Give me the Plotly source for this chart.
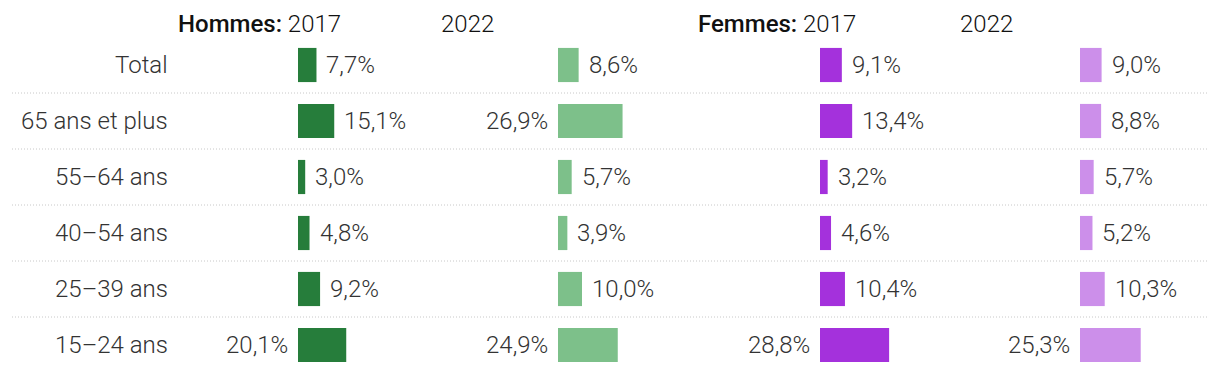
import plotly.graph_objects as go

categories = ["Total", "65 ans et plus", "55–64 ans", "40–54 ans", "25–39 ans", "15–24 ans"]
hommes_2017 = [7.7, 15.1, 3.0, 4.8, 9.2, 20.1]
hommes_2022 = [8.6, 26.9, 5.7, 3.9, 10.0, 24.9]
femmes_2017 = [9.1, 13.4, 3.2, 4.6, 10.4, 28.8]
femmes_2022 = [9.0, 8.8, 5.7, 5.2, 10.3, 25.3]

series = [
    ("Hommes 2017", hommes_2017, "#267d3b"),
    ("Hommes 2022", hommes_2022, "#7dc08a"),
    ("Femmes 2017", femmes_2017, "#a431dc"),
    ("Femmes 2022", femmes_2022, "#cc8fea"),
]

# page body has an 8px margin: figure is sized to fit the window exactly
W, H = 1204, 356
TOP = 29
ROW = 56
col_starts = [290, 550, 812, 1072]
col_w = 132
px_per_pct = 2.4
FONT = "Roboto Light, Roboto"
FS = 24
TXT = "#333333"

fig = go.Figure()
annotations = []
for i, (name, vals, color) in enumerate(series):
    ax = "x" if i == 0 else f"x{i+1}"
    fig.add_trace(go.Bar(
        x=vals, y=categories, orientation="h", name=name,
        marker=dict(color=color, line=dict(width=0)),
        width=0.61, xaxis=ax, yaxis="y", hoverinfo="x+y",
        showlegend=False,
    ))
    for c, v in zip(categories, vals):
        label = f"{v:.1f}%".replace(".", ",")
        if v >= 20:
            annotations.append(dict(x=0, y=c, xref=ax, yref="y", text=label,
                                    showarrow=False, xanchor="right", xshift=-8,
                                    font=dict(family=FONT, size=FS, color=TXT, weight=300)))
        else:
            annotations.append(dict(x=v, y=c, xref=ax, yref="y", text=label,
                                    showarrow=False, xanchor="left", xshift=8,
                                    font=dict(family=FONT, size=FS, color=TXT, weight=300)))

for c in categories:
    annotations.append(dict(x=162 / W, y=c, xref="paper", yref="y", text=c,
                            showarrow=False, xanchor="right",
                            font=dict(family=FONT, size=FS, color=TXT, weight=300)))

plot_h = H - TOP
hy = 1 + (TOP - 16) / plot_h
headers = [
    (168, "<span style='font-family:Roboto;font-weight:500'>Hommes:</span> 2017"),
    (431, "2022"),
    (688, "<span style='font-family:Roboto;font-weight:500'>Femmes:</span> 2017"),
    (950, "2022"),
]
for x, t in headers:
    annotations.append(dict(x=x / W, y=hy, xref="paper", yref="paper", text=t,
                            showarrow=False, xanchor="left", yanchor="middle",
                            font=dict(family=FONT, size=FS, color="#111111", weight=300)))

shapes = []
for k in range(len(categories) - 1):
    shapes.append(dict(type="line", xref="paper", yref="y", x0=4 / W, x1=1199 / W,
                       y0=k + 0.5, y1=k + 0.5,
                       line=dict(color="#c8c8c8", width=1, dash="1px,2px")))

span = plot_h / ROW
layout = dict(
    width=W, height=H,
    margin=dict(l=0, r=0, t=TOP, b=0),
    paper_bgcolor="white", plot_bgcolor="white",
    font=dict(family=FONT, size=FS, color=TXT),
    barmode="overlay",
    yaxis=dict(categoryorder="array", categoryarray=categories,
               range=[-0.5 + span, -0.5],
               showticklabels=False, showgrid=False, zeroline=False, fixedrange=True),
    annotations=annotations,
    shapes=shapes,
)
for i, s in enumerate(col_starts):
    key = "xaxis" if i == 0 else f"xaxis{i+1}"
    layout[key] = dict(domain=[s / W, (s + col_w) / W], range=[0, col_w / px_per_pct],
                       anchor="y", showticklabels=False, showgrid=False,
                       zeroline=False, showline=False, fixedrange=True)
fig.update_layout(**layout)
fig.write_html("out.html", config={"displayModeBar": False})
